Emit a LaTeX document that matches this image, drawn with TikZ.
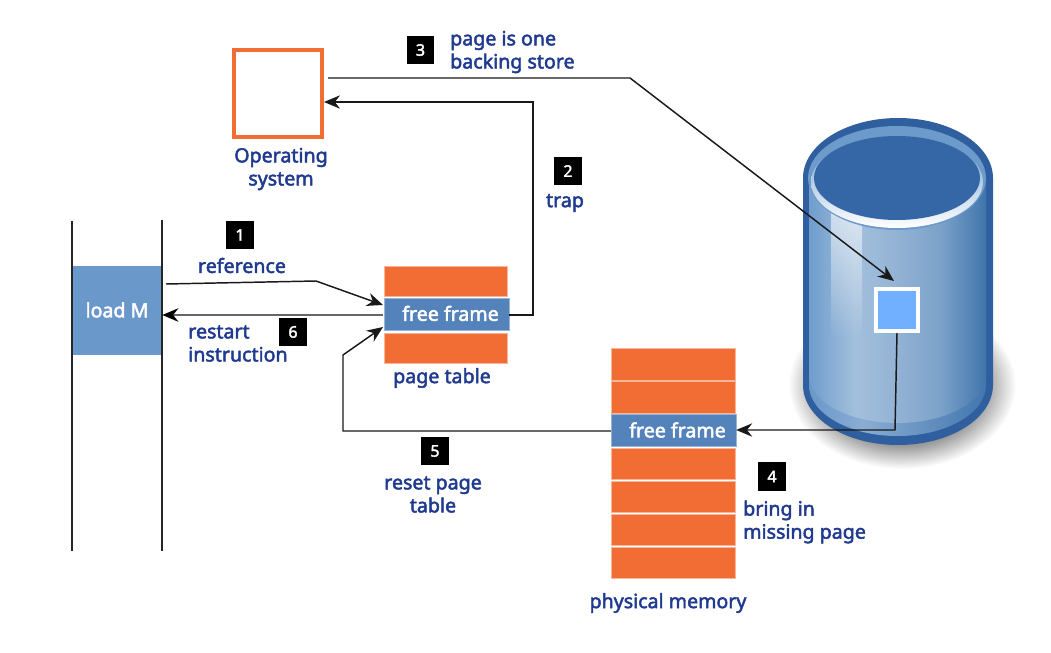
\documentclass[tikz,border=0pt]{standalone}
\usepackage{fontspec}
\setmainfont{Noto Sans}
\newfontfamily\labfont{Noto Sans}[FakeBold=2.4]
\usetikzlibrary{arrows.meta,calc,fadings}
\definecolor{orng}{HTML}{F26D33}
\definecolor{navy}{HTML}{1F3A8F}
\definecolor{ffblue}{HTML}{5482BA}
\definecolor{loadblue}{HTML}{6B98CB}
\definecolor{cyldark}{HTML}{2F5F9F}
\definecolor{cyltop}{HTML}{3566A6}
\definecolor{rimblue}{HTML}{6C9ACB}
\definecolor{sqblue}{HTML}{70B0FF}
\definecolor{ba}{HTML}{6F9DCD}
\definecolor{bb}{HTML}{A2BFDC}
\definecolor{bc}{HTML}{96B5D6}
\definecolor{bd}{HTML}{7CA2C9}
\definecolor{be}{HTML}{3F75AB}
\definecolor{ra}{HTML}{6A97CA}
\definecolor{rb}{HTML}{8AADD3}
\definecolor{rc}{HTML}{4276AE}
\definecolor{sa}{gray}{0.6}
\definecolor{sb}{gray}{1}
\pgfdeclarehorizontalshading{cylbody}{100bp}{
 color(0bp)=(ba); color(25bp)=(ba); color(38bp)=(bb); color(48bp)=(bc);
 color(62bp)=(bd); color(75bp)=(be); color(100bp)=(be)}
\pgfdeclarehorizontalshading{cylring}{100bp}{
 color(0bp)=(ra); color(25bp)=(ra); color(40bp)=(rb);
 color(75bp)=(rc); color(100bp)=(rc)}
\pgfdeclareradialshading{softshadow}{\pgfpointorigin}{
 color(0bp)=(sa); color(18bp)=(sa); color(25bp)=(sb); color(50bp)=(sb)}
\tikzset{
 x=0.75pt,y=-0.75pt,
 label text/.style={text=navy,font=\labfont\fontsize{14.7}{17.3}\selectfont,inner sep=0pt,align=center},
 left text/.style={label text,align=left,anchor=west},
 tag/.style={fill=black,text=white,inner sep=0pt,font=\labfont\fontsize{12}{13}\selectfont},
 orow/.style={fill=orng,draw=orng!50!white,line width=0.3pt,inner sep=0pt},
 frow/.style={fill=ffblue,draw=ffblue!60!white,line width=0.3pt,inner sep=0pt,text=white,font=\labfont\fontsize{14.7}{15}\selectfont},
 conn/.style={draw=black!90,line width=1.1pt,-{Stealth[length=12pt,width=10pt]}},
 plain/.style={draw=black!85,line width=1pt},
}
\newcommand{\rectnode}[7]{\pgfmathsetmacro\rw{(#4-#2)*0.75}\pgfmathsetmacro\rh{(#5-#3)*0.75}%
 \node[#6,minimum width=\rw pt,minimum height=\rh pt] (#1) at ({(#2+#4)/2},{(#3+#5)/2}) {#7};}
\begin{document}
\begin{tikzpicture}
\useasboundingbox (0,0) rectangle (1051,653);
% cylinder shadow
\path[shading=softshadow] (902,385) ellipse [x radius=114,y radius=84];
% cylinder
\path[fill=cyldark] (803,178) arc[start angle=180,end angle=360,x radius=95,y radius=60] -- (993,385)
  arc[start angle=0,end angle=180,x radius=95,y radius=60] -- cycle;
\path[shading=cylring] (809,178) -- (986,178) -- (986,385) arc[start angle=0,end angle=180,x radius=88.5,y radius=51] -- cycle;
\path[shading=cylbody] (809,178) -- (986,178) -- (986,375) arc[start angle=0,end angle=180,x radius=88.5,y radius=48] -- cycle;
\path[fill=white,path fading=south,opacity=.65] (831,205) -- (862,225) -- (862,338) -- (831,338) -- cycle;
\path[fill=rimblue] (897,178) ellipse [x radius=89,y radius=52];
\path[top color=rimblue,middle color=rimblue!75!white,bottom color=white] (897,182) ellipse [x radius=86,y radius=46];
\path[fill=cyltop] (897,178) ellipse [x radius=83,y radius=42];
% processes
\coordinate (lt) at (72,221); \coordinate (lb) at (72,551);
\coordinate (rt) at (162,220); \coordinate (rb) at (162,551);
\rectnode{load}{72}{266}{162}{355}{fill=loadblue,inner sep=0pt,text=white,font=\labfont\fontsize{14.7}{15}\selectfont}{\raisebox{1pt}{load M}}
\draw[plain] (lt) -- (lb);
\draw[plain] (rt) -- (rb);
% OS
\rectnode{os}{234}{50}{322}{137}{draw=orng,line width=3pt,fill=white,inner sep=0pt}{}
\node[label text] (ostext) at (281,169) {Operating\\system};
% page table
\rectnode{pta}{384}{266}{507}{296}{orow}{}
\rectnode{ptb}{384}{333}{507}{363}{orow}{}
\rectnode{ptf}{384}{298}{509}{330}{frow}{\hspace*{6pt}\raisebox{1pt}{free frame}}
\node[label text] (pttext) at (442,378) {page table};
% physical memory
\rectnode{m1}{611}{348}{735}{380}{orow}{}
\rectnode{m2}{611}{381}{735}{413}{orow}{}
\rectnode{mf}{611}{414}{736}{446}{frow}{\hspace*{6pt}free frame}
\rectnode{m3}{611}{448}{735}{479}{orow}{}
\rectnode{m4}{611}{481}{735}{512}{orow}{}
\rectnode{m5}{611}{514}{735}{545}{orow}{}
\rectnode{m6}{611}{547}{735}{578}{orow}{}
\node[label text] (pmtext) at (668,603) {physical memory};
% disc block
\rectnode{blk}{876}{289}{918}{331}{fill=sqblue,draw=white,line width=3pt,inner sep=0pt}{}
% tags
\rectnode{t1}{226}{221}{254}{249}{tag}{1}
\rectnode{t2}{554}{157}{582}{185}{tag}{2}
\rectnode{t3}{407}{36}{434}{64}{tag}{3}
\rectnode{t4}{758}{462}{786}{491}{tag}{4}
\rectnode{t5}{421}{437}{449}{465}{tag}{5}
\rectnode{t6}{279}{318}{307}{346}{tag}{6}
% labels
\node[left text] (l3) at (450,52) {page is one\\backing store};
\node[label text] (l2) at (565,203) {trap};
\node[label text] (l1) at (242,265.5) {reference};
\node[left text] (l6) at (188,343.5) {restart\\instruction};
\node[label text] (l5) at (433,494.5) {reset page\\table};
\node[left text] (l4) at (743,522) {bring in\\missing page};
% connectors
\coordinate (c3a) at (328,78); \coordinate (c3b) at (630,78); \coordinate (c3c) at (894,281);
\draw[conn] (c3a) -- (c3b) -- (c3c);
\coordinate (c2a) at (533,315); \coordinate (c2b) at (533,102);
\draw[conn] (ptf.east |- c2a) -- (c2a) -- (c2b) -- (os.east |- c2b);
\coordinate (c1a) at (166,284); \coordinate (c1b) at (316,281); \coordinate (c1c) at (383,305);
\draw[conn] (c1a) -- (c1b) -- (c1c);
\coordinate (c6) at (383,315);
\draw[draw=black!60,line width=2pt,-{Stealth[length=12pt,width=10pt,black]}] (c6) -- (load.east |- c6);
\coordinate (c5a) at (343,431); \coordinate (c5b) at (343,355); \coordinate (c5c) at (383,327);
\draw[conn] (mf.west |- c5a) -- (c5a) -- (c5b) -- (c5c);
\coordinate (c4a) at (895,430);
\draw[conn] (blk.south) -- (c4a) -- (mf.east |- c4a);
\end{tikzpicture}
\end{document}
